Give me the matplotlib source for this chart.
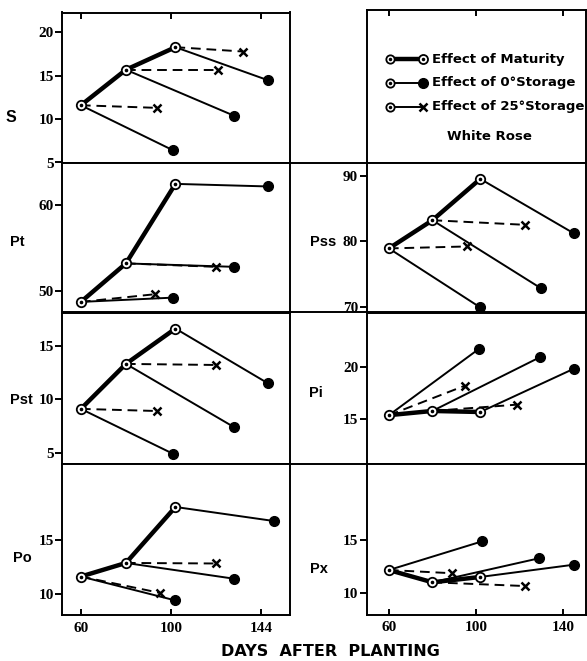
import matplotlib
matplotlib.use("Agg")
import matplotlib.pyplot as plt
from matplotlib.lines import Line2D

# ---------------- data ----------------
mat_days = [60, 80, 102]

S_mat = [11.6, 15.7, 18.3]
S_cold_x = [101, 128, 143]
S_cold = [6.4, 10.4, 14.5]
S_warm_x = [94, 121, 132]
S_warm = [11.3, 15.7, 17.8]

Pt_mat = [48.7, 53.2, 62.5]
Pt_cold_x = [101, 128, 143]
Pt_cold = [49.2, 52.8, 62.2]
Pt_warm_x = [93, 120]
Pt_warm = [49.6, 52.8]

Pst_mat = [9.1, 13.3, 16.6]
Pst_cold_x = [101, 128, 143]
Pst_cold = [4.9, 7.4, 11.5]
Pst_warm_x = [94, 120]
Pst_warm = [8.9, 13.2]

Po_mat = [11.6, 12.85, 18.0]
Po_cold_x = [102, 128, 146]
Po_cold = [9.4, 11.4, 16.7]
Po_warm_x = [95, 120]
Po_warm = [10.1, 12.8]

Pss_mat = [78.9, 83.2, 89.5]
Pss_cold_x = [102, 130, 145]
Pss_cold = [69.9, 72.8, 81.2]
Pss_warm_x = [96, 122.5]
Pss_warm = [79.2, 82.5]

Pi_mat = [15.4, 15.8, 15.7]
Pi_cold_x = [101.5, 129.5, 145]
Pi_cold = [21.7, 20.9, 19.8]
Pi_warm_x = [95, 119]
Pi_warm = [18.2, 16.4]

Px_mat = [12.2, 11.05, 11.55]
Px_cold_x = [103, 129, 145]
Px_cold = [14.9, 13.3, 12.7]
Px_warm_x = [89, 122.5]
Px_warm = [11.9, 10.7]

left_xticks = [60, 100, 140]
left_xticklabels = ["60", "100", "144"]
right_xticks = [60, 100, 140]
right_xticklabels = ["60", "100", "140"]

legend_labels = ["Effect of Maturity", "Effect of 0\u00b0Storage", "Effect of 25\u00b0Storage"]
variety = "White Rose"
xlabel = "DAYS  AFTER  PLANTING"

# ---------------- layout ----------------
W, H = 587, 661
fig = plt.figure(figsize=(W / 100, H / 100), dpi=100)
fig.patch.set_facecolor("white")

TICKFONT = dict(family="Liberation Serif", weight="bold", size=11)
LABFONT = dict(family="DejaVu Sans", weight="bold")
PANFONT = dict(family="Liberation Sans", weight="bold")
SPLW = 1.4


def ax_at(x0, y0, x1, y1):
    return fig.add_axes([x0 / W, 1 - y1 / H, (x1 - x0) / W, (y1 - y0) / H])


def style(ax, xlim, ylim, yticks, xticks, top=False, bottom=False, xticklabels=None):
    ax.set_xlim(*xlim)
    ax.set_ylim(*ylim)
    for s in ax.spines.values():
        s.set_linewidth(SPLW)
    ax.set_yticks(yticks)
    ax.set_yticklabels([str(t) for t in yticks], fontdict=TICKFONT)
    ax.tick_params(axis="y", direction="out", length=5, width=SPLW, pad=1)
    ax.set_xticks(xticks)
    if bottom:
        ax.set_xticklabels(xticklabels, fontdict=TICKFONT)
    ax.tick_params(axis="x", direction="in", length=4, width=SPLW,
                   top=top, bottom=bottom, labelbottom=bottom, pad=5)
    if not top and not bottom:
        ax.tick_params(axis="x", length=0)


def draw_panel(ax, mat, cold_x, cold, warm_x, warm):
    # storage at 25 C (dashed)
    for i in range(len(warm)):
        ax.plot([mat_days[i], warm_x[i]], [mat[i], warm[i]], color="black",
                lw=1.4, ls=(0, (5, 3)), zorder=2)
        ax.plot(warm_x[i], warm[i], marker="x", ms=6, mew=1.8, color="black", zorder=4)
    # storage at 0 C (solid)
    for i in range(len(cold)):
        ax.plot([mat_days[i], cold_x[i]], [mat[i], cold[i]], color="black",
                lw=1.4, zorder=2)
        ax.plot(cold_x[i], cold[i], marker="o", ms=7, color="black", zorder=4)
    # maturity (thick)
    ax.plot(mat_days, mat, color="black", lw=3.2, zorder=3, solid_capstyle="round")
    ax.plot(mat_days, mat, ls="none", marker="o", ms=6.8, mfc="white", mec="black",
            mew=1.3, zorder=5)
    ax.plot(mat_days, mat, ls="none", marker="o", ms=1.6, color="black", zorder=6)


LX = (51.6, 152.9)
RX = (49.7, 150.6)

left_rows = [(12.5, 162.5), (162.5, 312.5), (312.5, 463.5), (463.5, 615)]
right_rows = [(9.5, 162.5), (162.5, 312.5), (312.5, 463.5), (463.5, 614.5)]

# Left column
axS = ax_at(62, left_rows[0][0], 290, left_rows[0][1])
style(axS, LX, (5, 22.3), [5, 10, 15, 20], left_xticks, top=True)
draw_panel(axS, S_mat, S_cold_x, S_cold, S_warm_x, S_warm)

axPt = ax_at(62, left_rows[1][0], 290, left_rows[1][1])
style(axPt, LX, (47.46, 65.0), [50, 60], left_xticks)
draw_panel(axPt, Pt_mat, Pt_cold_x, Pt_cold, Pt_warm_x, Pt_warm)

axPst = ax_at(62, left_rows[2][0], 290, left_rows[2][1])
style(axPst, LX, (4.0, 18.1), [5, 10, 15], left_xticks)
draw_panel(axPst, Pst_mat, Pst_cold_x, Pst_cold, Pst_warm_x, Pst_warm)

axPo = ax_at(62, left_rows[3][0], 290, left_rows[3][1])
style(axPo, LX, (8.06, 22.0), [10, 15], left_xticks, bottom=True,
      xticklabels=left_xticklabels)
draw_panel(axPo, Po_mat, Po_cold_x, Po_cold, Po_warm_x, Po_warm)

# Right column
axL = ax_at(366.5, right_rows[0][0], 586, right_rows[0][1])
axL.set_xlim(*RX)
axL.set_ylim(0, 1)
for s in axL.spines.values():
    s.set_linewidth(SPLW)
axL.set_yticks([])
axL.set_xticks(right_xticks)
axL.tick_params(axis="x", direction="in", length=4, width=SPLW, top=True,
                bottom=False, labelbottom=False)

axPss = ax_at(366.5, right_rows[1][0], 586, right_rows[1][1])
style(axPss, RX, (69.13, 92.0), [70, 80, 90], right_xticks)
draw_panel(axPss, Pss_mat, Pss_cold_x, Pss_cold, Pss_warm_x, Pss_warm)

axPi = ax_at(366.5, right_rows[2][0], 586, right_rows[2][1])
style(axPi, RX, (10.82, 25.13), [15, 20], right_xticks)
draw_panel(axPi, Pi_mat, Pi_cold_x, Pi_cold, Pi_warm_x, Pi_warm)

axPx = ax_at(366.5, right_rows[3][0], 586, right_rows[3][1])
style(axPx, RX, (8.03, 22.19), [10, 15], right_xticks, bottom=True,
      xticklabels=right_xticklabels)
draw_panel(axPx, Px_mat, Px_cold_x, Px_cold, Px_warm_x, Px_warm)

# horizontal dividers across the gap between columns
for yy in (162.5, 312.5, 463.5):
    fig.add_artist(Line2D([290 / W, 366.5 / W], [1 - yy / H, 1 - yy / H],
                          color="black", lw=SPLW, transform=fig.transFigure))

# legend (drawn inside legend panel, axes coords)
T = axL.transAxes
lx0, lx1, tx = 0.107, 0.257, 0.30
rows_y = [0.676, 0.52, 0.363]
for k, yy in enumerate(rows_y):
    lw = 3.2 if k == 0 else 1.4
    axL.plot([lx0, lx1], [yy, yy], color="black", lw=lw, transform=T, zorder=2)
    axL.plot([lx0], [yy], marker="o", ms=6, mfc="white", mec="black", mew=1.3,
             transform=T, zorder=3)
    axL.plot([lx0], [yy], marker="o", ms=1.5, color="black", transform=T, zorder=4)
    if k == 0:
        axL.plot([lx1], [yy], marker="o", ms=6.5, mfc="white", mec="black", mew=1.3,
                 transform=T, zorder=3)
        axL.plot([lx1], [yy], marker="o", ms=1.5, color="black", transform=T, zorder=4)
    elif k == 1:
        axL.plot([lx1], [yy], marker="o", ms=7, color="black", transform=T, zorder=3)
    else:
        axL.plot([lx1], [yy], marker="x", ms=6, mew=1.8, color="black", transform=T,
                 zorder=3)
    axL.text(tx, yy, legend_labels[k], transform=T, va="center", ha="left",
             fontsize=9.5, **LABFONT)
axL.text(0.56, 0.167, variety, transform=T, va="center", ha="center",
         fontsize=9.5, **LABFONT)

# panel labels
def ftext(x, y, s, size=10.5, font=PANFONT):
    fig.text(x / W, 1 - y / H, s, ha="center", va="center", fontsize=size, **font)

ftext(11, 117, "S", size=11.5)
ftext(17.5, 242, "Pt")
ftext(21, 400, "Pst")
ftext(22.5, 558, "Po")
ftext(323.5, 242, "Pss")
ftext(315.5, 393, "Pi")
ftext(319, 569, "Px")

ftext(330, 651, xlabel, size=11.5, font=LABFONT)

fig.savefig("out.png", dpi=100, facecolor="white")
